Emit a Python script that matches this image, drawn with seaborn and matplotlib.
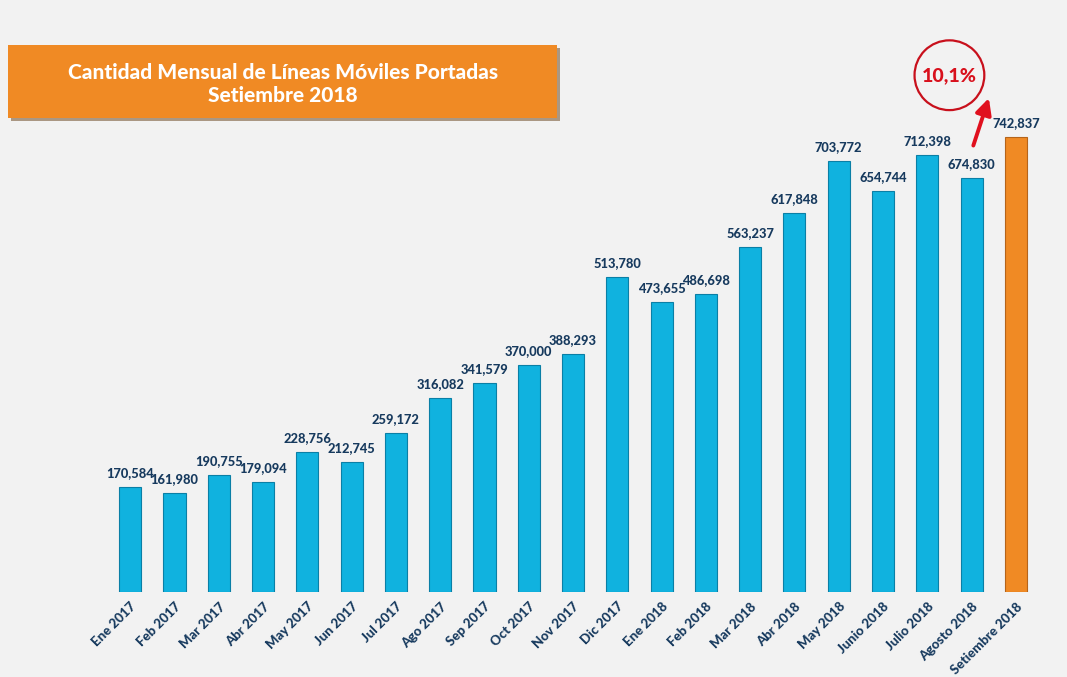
import matplotlib
import matplotlib.pyplot as plt
import pandas as pd
import seaborn as sns
from matplotlib.patches import FancyBboxPatch

matplotlib.use('Agg')

months = ['Ene 2017', 'Feb 2017', 'Mar 2017', 'Abr 2017', 'May 2017', 'Jun 2017',
          'Jul 2017', 'Ago 2017', 'Sep 2017', 'Oct 2017', 'Nov 2017', 'Dic 2017',
          'Ene 2018', 'Feb 2018', 'Mar 2018', 'Abr 2018', 'May 2018', 'Junio 2018',
          'Julio 2018', 'Agosto 2018', 'Setiembre 2018']
lines_ported = [170584, 161980, 190755, 179094, 228756, 212745, 259172, 316082,
                341579, 370000, 388293, 513780, 473655, 486698, 563237, 617848,
                703772, 654744, 712398, 674830, 742837]
growth_label = '10,1%'

BG = '#f2f2f2'
NAVY = '#173a5e'
CYAN = '#10b2df'
ORANGE = '#f08a24'


def main():
    df = pd.DataFrame({'month': months, 'lines': lines_ported})
    df['kind'] = ['prev'] * (len(df) - 1) + ['last']

    sns.set_style('white')
    plt.rcParams['font.family'] = ['Lato', 'DejaVu Sans']

    fig = plt.figure(figsize=(10.67, 6.77), dpi=100, facecolor=BG)
    ax = fig.add_axes([108 / 1067, 1 - 592 / 677, 930 / 1067, 537 / 677])
    ax.set_facecolor(BG)

    sns.barplot(data=df, x='month', y='lines', hue='kind',
                palette={'prev': CYAN, 'last': ORANGE}, legend=False,
                saturation=1, width=0.5, edgecolor='#0a7fa6', linewidth=0.8,
                ax=ax)
    for p in ax.patches:
        if p.get_facecolor()[0] > 0.5:
            p.set_edgecolor('#b5641a')

    ax.set_ylim(0, 876000)
    ax.set_xlim(-0.5, len(months) - 0.5)
    for s in ax.spines.values():
        s.set_visible(False)
    ax.set_yticks([])
    ax.set_xlabel('')
    ax.set_ylabel('')

    # value labels
    for i, v in enumerate(lines_ported):
        ax.text(i, v + 13000, f'{v:,}', ha='center', va='bottom',
                fontsize=9.3, fontweight='black', color=NAVY)

    ax.tick_params(axis='x', length=0, pad=6)
    ax.set_xticks(range(len(months)))
    ax.set_xticklabels(months, rotation=45, ha='right', rotation_mode='anchor',
                       fontsize=9.5, fontweight='black', color=NAVY)

    # growth annotation
    ax.annotate('', xy=(19.41, 810000), xytext=(19.02, 724000),
                arrowprops=dict(arrowstyle='-|>', color='#e0101e', lw=2.8,
                                mutation_scale=24), annotation_clip=False)
    ax.text(18.5, 843000, growth_label, ha='center', va='center',
            fontsize=14, fontweight='black', color='#d8101c',
            bbox=dict(boxstyle='circle,pad=0.38', fc='none', ec='#c8101c', lw=1.6),
            clip_on=False)

    # title banner
    shadow = FancyBboxPatch((11 / 1067, 1 - 121 / 677), 549 / 1067, 73 / 677,
                            boxstyle='square,pad=0', transform=fig.transFigure,
                            fc='#7a5a3a', ec='none', alpha=0.6)
    banner = FancyBboxPatch((8 / 1067, 1 - 118 / 677), 549 / 1067, 73 / 677,
                            boxstyle='square,pad=0', transform=fig.transFigure,
                            fc=ORANGE, ec='none')
    fig.patches.extend([shadow, banner])
    fig.text(283 / 1067, 1 - 84 / 677,
             'Cantidad Mensual de Líneas Móviles Portadas\nSetiembre 2018',
             ha='center', va='center', fontsize=15, fontweight='black',
             color='white', linespacing=1.2)

    fig.savefig('out.png', dpi=100, facecolor=BG)
    plt.close(fig)


if __name__ == '__main__':
    main()
